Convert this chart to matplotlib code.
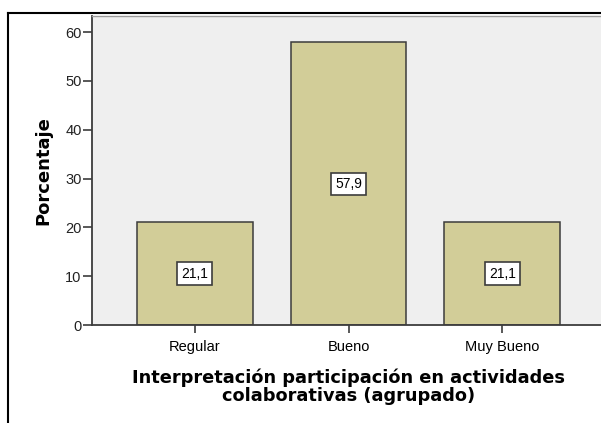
import matplotlib
matplotlib.use("Agg")
import matplotlib.pyplot as plt
from matplotlib.lines import Line2D

categories = ["Regular", "Bueno", "Muy Bueno"]
percentages = [21.1, 57.9, 21.1]
value_labels = ["21,1", "57,9", "21,1"]
y_ticks = [0, 10, 20, 30, 40, 50, 60]

bar_fill = "#d2cd98"
edge_col = "#3c3c3c"
panel_col = "#efefef"

plt.rcParams["font.family"] = ["Liberation Sans", "DejaVu Sans"]

fig = plt.figure(figsize=(6.01, 4.23), dpi=100)
ax = fig.add_axes([92 / 601, 1 - 325 / 423, 513 / 601, 309 / 423])
ax.set_facecolor(panel_col)

xs = list(range(len(categories)))
ax.bar(xs, percentages, width=0.753, color=bar_fill, edgecolor=edge_col,
       linewidth=1.1, zorder=2)

# value boxes at half height of each bar
for x, v, lab in zip(xs, percentages, value_labels):
    ax.text(x, v / 2, lab, ha="center", va="center", fontsize=10, zorder=3,
            bbox=dict(boxstyle="square,pad=0.3", facecolor="white",
                      edgecolor=edge_col, linewidth=1.2))

ax.set_xlim(-0.666, 2.666)
ax.set_ylim(0, 63.3)
ax.set_xticks(xs)
ax.set_xticklabels(categories, fontsize=10.5)
ax.set_yticks(y_ticks)
ax.set_yticklabels([str(t) for t in y_ticks], fontsize=10.5, color="#222222")
ax.tick_params(axis="y", length=6.5, width=1.2, color=edge_col, pad=1)
ax.tick_params(axis="x", length=6, width=1.2, color=edge_col, pad=5)

for side in ["left", "bottom"]:
    ax.spines[side].set_color(edge_col)
    ax.spines[side].set_linewidth(1.3)
ax.spines["top"].set_color("#9a9a9a")
ax.spines["top"].set_linewidth(1.0)
ax.spines["right"].set_visible(False)

ax.set_ylabel("Porcentaje", fontsize=13, fontweight="bold",
              family=["DejaVu Sans"], labelpad=9)
ax.set_xlabel("Interpretación participación en actividades\ncolaborativas (agrupado)",
              fontsize=12.8, fontweight="bold", family=["DejaVu Sans"],
              linespacing=1.0, labelpad=10)

# outer chart frame
fig.add_artist(Line2D([8 / 601, 8 / 601], [0, 1 - 13 / 423],
                      transform=fig.transFigure, color="black", linewidth=1.5))
fig.add_artist(Line2D([8 / 601, 1], [1 - 13 / 423, 1 - 13 / 423],
                      transform=fig.transFigure, color="black", linewidth=1.5))

fig.savefig("out.png", dpi=100)
